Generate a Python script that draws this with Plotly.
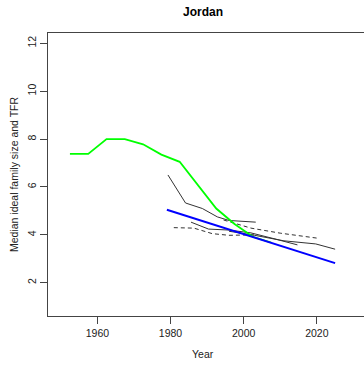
import plotly.graph_objects as go

# TFR (green)
tfr_years = [1952.5, 1957.5, 1962.5, 1967.5, 1972.5, 1977.5, 1982.5, 1987.5, 1992.5, 1997.5, 2002.5, 2007.5]
tfr_vals = [7.38, 7.38, 8.0, 8.0, 7.78, 7.35, 7.05, 6.05, 5.1, 4.45, 3.92, 3.68]

# Trend (blue)
trend_years = [1979.0, 2025.0]
trend_vals = [5.05, 2.82]

# Median ideal family size series (black)
a_years = [1979.3, 1984.1, 1988.7, 1992.8, 1996.0, 2003.3]
a_vals = [6.5, 5.33, 5.1, 4.75, 4.6, 4.53]

b_years = [1994.5, 2002.0, 2010.0, 2020.2]
b_vals = [4.62, 4.28, 4.07, 3.86]

c_years = [1985.6, 1990.4, 1996.0, 2002.0, 2008.0, 2014.7]
c_vals = [4.53, 4.24, 4.2, 4.08, 3.85, 3.58]

d_years = [1980.9, 1986.4, 1991.4, 1996.0, 2003.0]
d_vals = [4.3, 4.28, 4.05, 3.98, 4.0]

e_years = [1996.0, 2003.0, 2011.0, 2019.7, 2025.0]
e_vals = [4.15, 3.98, 3.75, 3.62, 3.4]

x_ticks = [1960, 1980, 2000, 2020]
y_ticks = [2, 4, 6, 8, 10, 12]

fig = go.Figure()
blk = "#333333"
for xs, ys, dash in [(a_years, a_vals, "solid"), (b_years, b_vals, "4px,3px"),
                     (c_years, c_vals, "solid"), (d_years, d_vals, "4px,3px"),
                     (e_years, e_vals, "solid")]:
    fig.add_trace(go.Scatter(x=xs, y=ys, mode="lines",
                             line=dict(color=blk, width=1, dash=dash)))
fig.add_trace(go.Scatter(x=tfr_years, y=tfr_vals, mode="lines",
                         line=dict(color="#00ff00", width=1.8)))
fig.add_trace(go.Scatter(x=trend_years, y=trend_vals, mode="lines",
                         line=dict(color="#0000ff", width=2)))

font = "Liberation Sans, Arial, sans-serif"
fig.update_layout(
    width=364, height=367,
    margin=dict(l=48, r=0, t=33, b=51),
    paper_bgcolor="white", plot_bgcolor="white",
    showlegend=False,
    font=dict(family=font, size=10.5, color="#222"),
    title=dict(text="<b>Jordan</b>", x=203/364, xref="container", xanchor="center",
               y=1-12/367, yref="container", yanchor="middle",
               font=dict(size=12, color="black", family=font)),
    xaxis=dict(range=[1946.5, 2032.9], tickvals=x_ticks, ticks="outside", ticklen=7,
               tickcolor="#444", showgrid=False, zeroline=False, showline=True,
               linecolor="#444", linewidth=1, mirror=True),
    yaxis=dict(range=[0.61, 12.43], tickvals=y_ticks, ticks="outside", ticklen=7,
               tickcolor="#444", tickangle=-90, showgrid=False, zeroline=False,
               showline=True, linecolor="#444", linewidth=1, mirror=False),
    annotations=[
        dict(text="Year", xref="paper", yref="paper", x=(203-48)/316, y=(316-354)/283,
             showarrow=False, xanchor="center", yanchor="middle", font=dict(size=10.5)),
        dict(text="Median ideal family size and TFR", xref="paper", yref="paper",
             x=(14-48)/316, y=(316-175)/283, textangle=-90, showarrow=False,
             xanchor="center", yanchor="middle", font=dict(size=10.5)),
    ],
)
fig.write_html("out.html")
